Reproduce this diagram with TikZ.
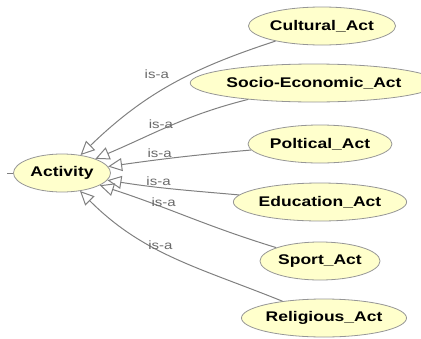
\documentclass[tikz,border=0pt]{standalone}
\usepackage{fontspec}
\usetikzlibrary{shapes.geometric,arrows.meta}
\newfontfamily\ogfont{Liberation Sans}[FakeStretch=1.25]
\definecolor{clsfill}{RGB}{255,255,204}
\definecolor{clsline}{RGB}{150,150,150}
\definecolor{edgeline}{RGB}{128,128,128}
\definecolor{labeltext}{RGB}{105,105,105}
\tikzset{
    cls/.style={ellipse, draw=clsline, fill=clsfill, thick, inner sep=0pt,
        minimum height=38pt, font=\ogfont\bfseries\fontsize{14}{16}\selectfont},
    isa/.style={draw=edgeline, line width=1pt, -{Triangle[open,length=14pt,width=13pt]}},
    lbl/.style={font=\ogfont\fontsize{12}{14}\selectfont, text=labeltext, inner sep=1pt},
    stub/.style={draw=edgeline, line width=1pt}
}
\begin{document}
\begin{tikzpicture}[x=1pt,y=1pt]
\useasboundingbox (0,0) rectangle (421,-338);

\node[cls, minimum width=97pt] at (62,-173) (activity) {Activity};
\coordinate (tick) at (7,-173);
\draw[stub] (activity) -- (tick);

\node[cls, minimum width=145pt] at (322,-26) (cultural) {Cultural\_Act};
\node[cls, minimum width=212pt] at (314,-83) (socio) {Socio-Economic\_Act};
\node[cls, minimum width=144pt] at (320,-144) (poltical) {Poltical\_Act};
\node[cls, minimum width=165pt] at (320,-202) (education) {Education\_Act};
\node[cls, minimum width=120pt] at (320,-261) (sport) {Sport\_Act};
\node[cls, minimum width=145pt] at (324,-318) (religious) {Religious\_Act};

\draw[isa] (cultural) to[out=198,in=44] node[lbl,pos=0.5,above left,yshift=5pt] {is-a} (activity);
\draw[isa] (socio) to[out=194,in=23] node[lbl,pos=0.57,above] {is-a} (activity);
\draw[isa] (poltical) to[out=185,in=8] node[lbl,pos=0.65,above] {is-a} (activity);
\draw[isa] (education) to[out=175,in=-9] node[lbl,pos=0.62,above] {is-a} (activity);
\draw[isa] (sport) to[out=163,in=-18] node[lbl,pos=0.65,above] {is-a} (activity);
\draw[isa] (religious) to[out=158,in=-45] node[lbl,pos=0.57,above] {is-a} (activity);
\end{tikzpicture}
\end{document}
